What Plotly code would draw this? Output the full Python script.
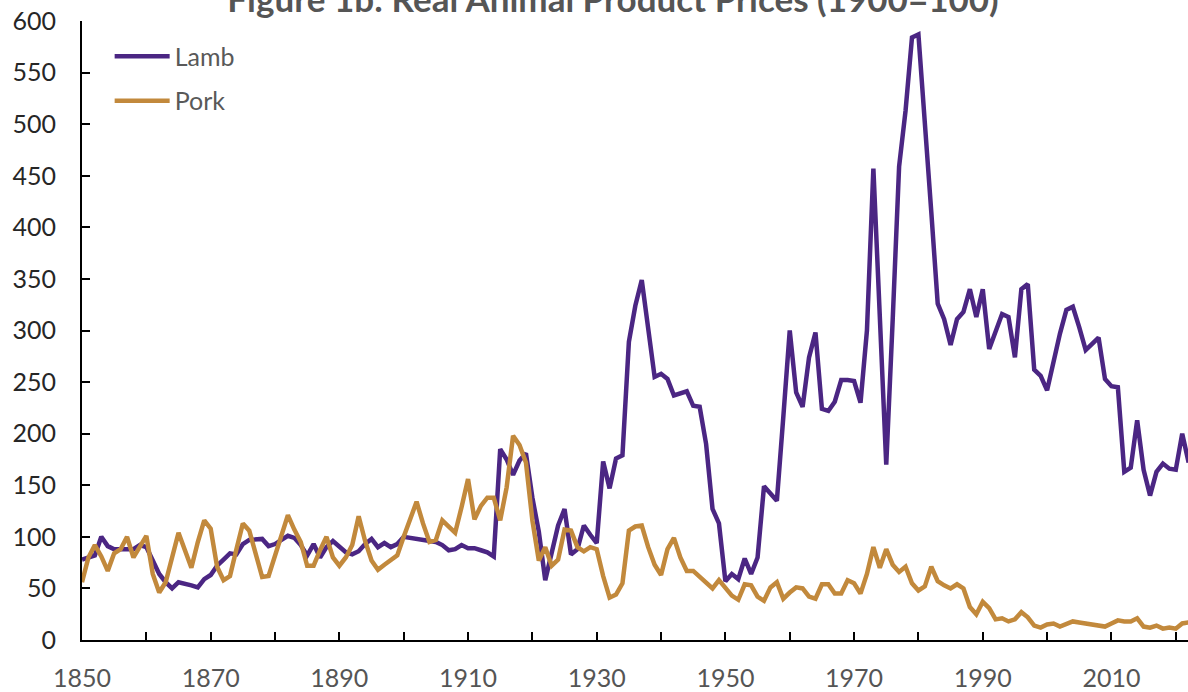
import plotly.graph_objects as go

years = list(range(1850, 2023))

lamb = [78, 80, 82, 100, 91, 88, 88, 88, 88, 92,
        90, 77, 64, 56, 50, 56, 55, 53, 51, 59,
        63, 72, 78, 84, 83, 93, 97, 98, 98, 91,
        93, 97, 101, 99, 92, 82, 93, 80, 90, 96,
        91, 85, 83, 86, 93, 98, 90, 94, 90, 93,
        100, 99, 97, 96, 95, 95, 92, 87, 88, 92,
        89, 89, 87, 85, 81, 185, 175, 160, 174, 181,
        138, 105, 58, 87, 111, 127, 83, 88, 111, 102,
        94, 173, 147, 176, 179, 289, 324, 349, 305, 255,
        258, 253, 237, 239, 241, 227, 226, 190, 127, 113,
        57, 64, 59, 79, 64, 80, 149, 142, 135, 216,
        300, 240, 226, 274, 298, 224, 222, 231, 252, 252,
        251, 230, 300, 457, 315, 170, 310, 459, 513, 584,
        587, 505, 415, 326, 311, 286, 311, 318, 340, 313,
        340, 282, 299, 316, 313, 274, 340, 345, 262, 256,
        242, 270, 297, 320, 323, 303, 281, 287, 293, 253,
        246, 245, 163, 167, 213, 165, 140, 163, 171, 166,
        165, 200, 172]

pork = [56, 80, 92, 81, 67, 84, 88, 100, 80, 90,
        101, 64, 46, 56, 80, 104, 87, 70, 95, 116,
        108, 71, 58, 62, 88, 113, 106, 84, 61, 62,
        82, 101, 121, 107, 95, 72, 72, 87, 100, 80,
        72, 80, 92, 120, 96, 77, 68, 73, 77, 82,
        100, 117, 134, 113, 95, 97, 116, 110, 104, 129,
        156, 117, 130, 138, 138, 116, 148, 198, 189, 172,
        116, 77, 90, 72, 78, 107, 106, 90, 86, 90,
        88, 62, 41, 44, 55, 106, 110, 111, 90, 73,
        63, 88, 99, 80, 67, 67, 61, 55, 50, 58,
        51, 43, 39, 54, 53, 42, 38, 51, 56, 40,
        46, 51, 50, 42, 40, 54, 54, 45, 45, 58,
        55, 45, 64, 90, 70, 88, 73, 66, 71, 55,
        48, 52, 71, 57, 53, 50, 54, 50, 32, 25,
        37, 31, 20, 21, 18, 20, 27, 22, 14, 12,
        15, 16, 13, 15, 18, 17, 16, 16, 15, 13,
        16, 19, 18, 18, 21, 13, 12, 14, 11, 12,
        11, 16, 17]

x_label_vals = list(range(1850, 2011, 20))
y_tick_vals = list(range(0, 601, 50))

FONT = "Lato, 'Open Sans', sans-serif"

fig = go.Figure()
fig.add_trace(go.Scatter(x=years, y=lamb, mode="lines", name="Lamb",
                         legendgroup="a",
                         line=dict(color="#4b2683", width=4.5)))
fig.add_trace(go.Scatter(x=years, y=pork, mode="lines", name="Pork",
                         legendgroup="b",
                         line=dict(color="#c2893c", width=4.5)))

fig.update_layout(
    width=1188, height=692,
    margin=dict(l=82, r=0, t=21, b=52),
    paper_bgcolor="white", plot_bgcolor="white",
    font=dict(family=FONT, size=25, color="#262626"),
    title=dict(text="<b>Figure 1b: Real Animal Product Prices (1900=100)</b>",
               x=0.516, xanchor="center", xref="container",
               y=1.0, yanchor="middle", yref="container",
               font=dict(family=FONT, size=35, color="#555555")),
    legend=dict(x=0.025, y=0.980, xanchor="left", yanchor="top",
                font=dict(family=FONT, size=25, color="#595959"),
                bgcolor="rgba(0,0,0,0)", traceorder="grouped",
                tracegroupgap=9, itemwidth=55),
    showlegend=True,
)

fig.update_xaxes(
    range=[1850, 2021.9], showgrid=False, zeroline=False, automargin=False,
    showline=True, linecolor="black", linewidth=2,
    tickmode="array", tickvals=x_label_vals,
    ticks="inside", ticklen=8, tickcolor="black", tickwidth=1.5,
    ticklabelstandoff=15,
    tickfont=dict(family=FONT, size=25, color="#555555"),
    minor=dict(dtick=10, tick0=1850, ticks="inside", ticklen=8,
               tickcolor="black", tickwidth=1.5, showgrid=False),
)
fig.update_yaxes(
    range=[0, 600], showgrid=False, zeroline=False, automargin=False,
    showline=True, linecolor="black", linewidth=2,
    tickmode="array", tickvals=y_tick_vals,
    ticks="inside", ticklen=8, tickcolor="black", tickwidth=1.5,
    ticklabelstandoff=19,
    tickfont=dict(family=FONT, size=25, color="#262626"),
)

fig.write_html("out.html",
               config={"displayModeBar": False},
               post_script="document.body.style.margin='0';"
                           "document.body.style.overflow='hidden';")
